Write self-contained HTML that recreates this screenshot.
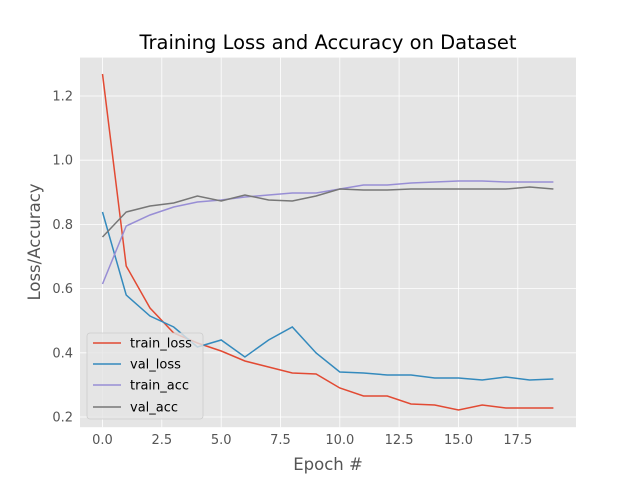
<!DOCTYPE html>
<html><head><style>body{margin:0;background:#fff}</style></head><body>
<svg width="640" height="480" xmlns="http://www.w3.org/2000/svg" font-family="DejaVu Sans, Liberation Sans, sans-serif">
<rect x="0" y="0" width="640" height="480" fill="#fff"/>
<rect x="80" y="57.6" width="496" height="369.6" fill="#E5E5E5"/>
<g stroke="#fff" stroke-width="0.8">
<line x1="102.5" y1="57.6" x2="102.5" y2="427.2"/><line x1="161.8" y1="57.6" x2="161.8" y2="427.2"/><line x1="221.2" y1="57.6" x2="221.2" y2="427.2"/><line x1="280.5" y1="57.6" x2="280.5" y2="427.2"/><line x1="339.8" y1="57.6" x2="339.8" y2="427.2"/><line x1="399.1" y1="57.6" x2="399.1" y2="427.2"/><line x1="458.5" y1="57.6" x2="458.5" y2="427.2"/><line x1="517.8" y1="57.6" x2="517.8" y2="427.2"/>
<line x1="80" y1="417" x2="576" y2="417"/><line x1="80" y1="352.8" x2="576" y2="352.8"/><line x1="80" y1="288.6" x2="576" y2="288.6"/><line x1="80" y1="224.4" x2="576" y2="224.4"/><line x1="80" y1="160.2" x2="576" y2="160.2"/><line x1="80" y1="96" x2="576" y2="96"/>
</g>
<g font-size="13" fill="#555" text-anchor="middle">
<text x="102.5" y="444">0.0</text><text x="161.8" y="444">2.5</text><text x="221.2" y="444">5.0</text><text x="280.5" y="444">7.5</text><text x="339.8" y="444">10.0</text><text x="399.1" y="444">12.5</text><text x="458.5" y="444">15.0</text><text x="517.8" y="444">17.5</text>
</g>
<g font-size="13" fill="#555" text-anchor="end">
<text x="73" y="421.5">0.2</text><text x="73" y="357.3">0.4</text><text x="73" y="293.1">0.6</text><text x="73" y="228.9">0.8</text><text x="73" y="164.7">1.0</text><text x="73" y="100.5">1.2</text>
</g>
<text x="328" y="470" font-size="16.5" fill="#555" text-anchor="middle">Epoch #</text>
<text transform="translate(40,242) rotate(-90)" font-size="16.5" fill="#555" text-anchor="middle">Loss/Accuracy</text>
<text x="328" y="49" font-size="19.5" fill="#000" text-anchor="middle">Training Loss and Accuracy on Dataset</text>
<g fill="none" stroke-width="1.5">
<polyline stroke="#E24A33" points="102.5,74 126.2,266 150,308 173.7,333 197.4,343 221.2,351 244.9,361 268.6,367 292.3,373 316.1,374 339.8,388 363.5,396 387.3,396 411,404 434.7,405 458.5,410 482.2,405 505.9,408 529.6,408 553.4,408"/>
<polyline stroke="#348ABD" points="102.5,212 126.2,295 150,316 173.7,327 197.4,347 221.2,340 244.9,357 268.6,340 292.3,327 316.1,353 339.8,372 363.5,373 387.3,375 411,375 434.7,378 458.5,378 482.2,380 505.9,377 529.6,380 553.4,379"/>
<polyline stroke="#988ED5" points="102.5,284 126.2,226 150,215 173.7,207 197.4,202 221.2,200 244.9,197 268.6,195 292.3,193 316.1,193 339.8,189 363.5,185 387.3,185 411,183 434.7,182 458.5,181 482.2,181 505.9,182 529.6,182 553.4,182"/>
<polyline stroke="#777777" points="102.5,237 126.2,212 150,206 173.7,203 197.4,196 221.2,201 244.9,195 268.6,200 292.3,201 316.1,196 339.8,189 363.5,190 387.3,190 411,189 434.7,189 458.5,189 482.2,189 505.9,189 529.6,187 553.4,189"/>
</g>
<rect x="87" y="333" width="116" height="86" rx="3" fill="#E5E5E5" fill-opacity="0.8" stroke="#ccc" stroke-width="0.8"/>
<g stroke-width="1.5">
<line x1="93" y1="343" x2="121" y2="343" stroke="#E24A33"/>
<line x1="93" y1="364" x2="121" y2="364" stroke="#348ABD"/>
<line x1="93" y1="385" x2="121" y2="385" stroke="#988ED5"/>
<line x1="93" y1="407" x2="121" y2="407" stroke="#777777"/>
</g>
<g font-size="13" fill="#000">
<text x="130" y="347.5">train_loss</text><text x="130" y="368.5">val_loss</text><text x="130" y="389.5">train_acc</text><text x="130" y="411.5">val_acc</text>
</g>
</svg>
</body></html>
